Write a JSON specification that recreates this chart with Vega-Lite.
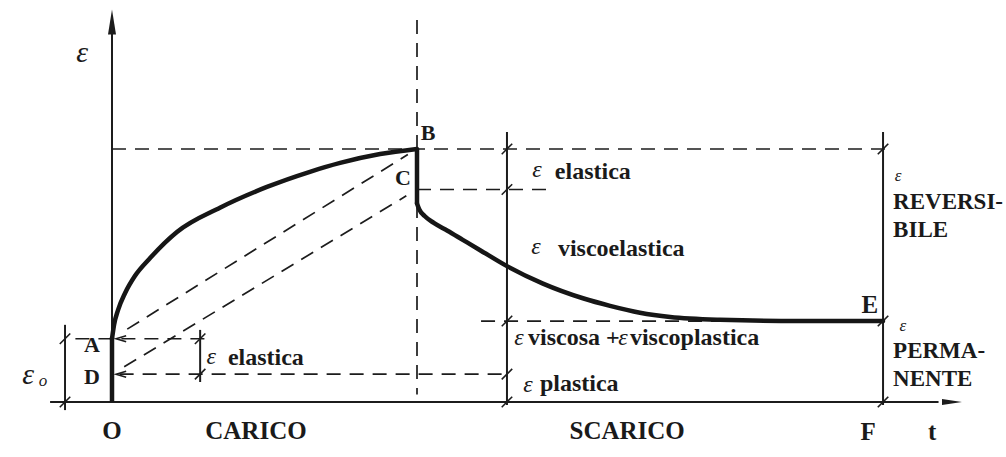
{
  "$schema": "https://vega.github.io/schema/vega-lite/v6.json",
  "width": 1006,
  "height": 457,
  "padding": 0,
  "autosize": {"type": "fit", "contains": "padding"},
  "background": "#ffffff",
  "config": {"view": {"stroke": null}},
  "datasets": {
    "solid": [
      {"t": 0, "e": 0, "t2": 0, "e2": 14.6},
      {"t": -2.03, "e": 0, "t2": 27.1, "e2": 0},
      {"t": 12.95, "e": 10.67, "t2": 12.95, "e2": -0.12},
      {"t": 25.28, "e": 10.67, "t2": 25.28, "e2": -0.12},
      {"t": -1.54, "e": 3.05, "t2": -1.54, "e2": -0.32},
      {"t": 2.89, "e": 2.85, "t2": 2.89, "e2": 0.79}
    ],
    "thick": [
      {"t": 0, "e": 0, "t2": 0, "e2": 2.55},
      {"t": 10, "e": 10.02, "t2": 10, "e2": 7.85}
    ],
    "dashed": [
      {"t": 0, "e": 10, "t2": 25.6, "e2": 10},
      {"t": 10, "e": 8.4, "t2": 14.35, "e2": 8.4},
      {"t": 12.1, "e": 3.2, "t2": 25.28, "e2": 3.2},
      {"t": 0.25, "e": 1.1, "t2": 12.95, "e2": 1.1},
      {"t": -1.2, "e": 2.5, "t2": 3.15, "e2": 2.5},
      {"t": 0.5, "e": 2.88, "t2": 9.7, "e2": 9.78},
      {"t": 0.4, "e": 1.39, "t2": 9.65, "e2": 8.15},
      {"t": 10, "e": 15.1, "t2": 10, "e2": 0.3}
    ],
    "curve": [
      {"seg": "carico", "i": 0, "t": 0, "e": 2.5},
      {"seg": "carico", "i": 1, "t": 0.066, "e": 3.04},
      {"seg": "carico", "i": 2, "t": 0.2, "e": 3.64},
      {"seg": "carico", "i": 3, "t": 0.43, "e": 4.31},
      {"seg": "carico", "i": 4, "t": 0.75, "e": 4.98},
      {"seg": "carico", "i": 5, "t": 1.25, "e": 5.69},
      {"seg": "carico", "i": 6, "t": 2.13, "e": 6.72},
      {"seg": "carico", "i": 7, "t": 3.54, "e": 7.68},
      {"seg": "carico", "i": 8, "t": 5.08, "e": 8.5},
      {"seg": "carico", "i": 9, "t": 6.49, "e": 9.1},
      {"seg": "carico", "i": 10, "t": 7.48, "e": 9.45},
      {"seg": "carico", "i": 11, "t": 8.79, "e": 9.8},
      {"seg": "carico", "i": 12, "t": 10, "e": 10},
      {"seg": "scarico", "i": 0, "t": 10, "e": 7.85},
      {"seg": "scarico", "i": 1, "t": 10.08, "e": 7.6},
      {"seg": "scarico", "i": 2, "t": 10.25, "e": 7.35},
      {"seg": "scarico", "i": 3, "t": 10.55, "e": 7.08},
      {"seg": "scarico", "i": 4, "t": 11.0, "e": 6.77},
      {"seg": "scarico", "i": 5, "t": 11.5, "e": 6.41},
      {"seg": "scarico", "i": 6, "t": 12.07, "e": 6.0},
      {"seg": "scarico", "i": 7, "t": 12.95, "e": 5.37},
      {"seg": "scarico", "i": 8, "t": 14.13, "e": 4.68},
      {"seg": "scarico", "i": 9, "t": 15.44, "e": 4.1},
      {"seg": "scarico", "i": 10, "t": 16.33, "e": 3.8},
      {"seg": "scarico", "i": 11, "t": 17.31, "e": 3.53},
      {"seg": "scarico", "i": 12, "t": 18.3, "e": 3.36},
      {"seg": "scarico", "i": 13, "t": 19.93, "e": 3.25},
      {"seg": "scarico", "i": 14, "t": 22.56, "e": 3.2},
      {"seg": "scarico", "i": 15, "t": 25.28, "e": 3.2}
    ],
    "ticks": [
      {"t": -1.54, "e": 2.5}, {"t": -1.54, "e": 0},
      {"t": 2.89, "e": 2.5}, {"t": 2.89, "e": 1.1},
      {"t": 12.95, "e": 10}, {"t": 12.95, "e": 8.4}, {"t": 12.95, "e": 3.2},
      {"t": 12.95, "e": 1.1}, {"t": 12.95, "e": 0},
      {"t": 25.28, "e": 10}, {"t": 25.28, "e": 3.2}, {"t": 25.28, "e": 0}
    ],
    "pointers": [
      {"t": 0.3, "e": 2.5}, {"t": 0.3, "e": 1.1}
    ],
    "arrow_up": [{"t": 0, "e": 15.02}],
    "arrow_right": [{"t": 27.54, "e": 0}],
    "letters": [
      {"t": -0.66, "e": 2.25, "text": "A"},
      {"t": -0.66, "e": 0.99, "text": "D"},
      {"t": 10.36, "e": 10.63, "text": "B"},
      {"t": 9.54, "e": 8.85, "text": "C"}
    ],
    "captions": [
      {"t": 0, "e": -1.15, "text": "O"},
      {"t": 4.72, "e": -1.15, "text": "CARICO"},
      {"t": 16.89, "e": -1.15, "text": "SCARICO"},
      {"t": 24.79, "e": -1.19, "text": "F"},
      {"t": 26.89, "e": -1.19, "text": "t"},
      {"t": 24.85, "e": 3.83, "text": "E"}
    ],
    "notes": [
      {"t": 14.52, "e": 9.09, "text": "elastica"},
      {"t": 14.62, "e": 6.05, "text": "viscoelastica"},
      {"t": 13.64, "e": 2.53, "text": "viscosa +"},
      {"t": 16.98, "e": 2.53, "text": "viscoplastica"},
      {"t": 14.03, "e": 0.71, "text": "plastica"},
      {"t": 3.8, "e": 1.74, "text": "elastica"}
    ],
    "side": [
      {"t": 25.61, "e": 7.9, "text": "REVERSI-"},
      {"t": 25.61, "e": 6.8, "text": "BILE"},
      {"t": 25.61, "e": 2.0, "text": "PERMA-"},
      {"t": 25.61, "e": 0.92, "text": "NENTE"}
    ],
    "eps": [
      {"t": 13.93, "e": 9.17, "text": "ε"},
      {"t": 13.9, "e": 6.13, "text": "ε"},
      {"t": 13.34, "e": 2.53, "text": "ε"},
      {"t": 16.75, "e": 2.53, "text": "ε"},
      {"t": 13.64, "e": 0.67, "text": "ε"},
      {"t": 3.25, "e": 1.78, "text": "ε"}
    ],
    "eps_big": [
      {"t": -0.98, "e": 13.79, "text": "ε"},
      {"t": -2.75, "e": 1.07, "text": "ε"}
    ],
    "eps_small": [
      {"t": 25.77, "e": 8.92, "text": "ε"},
      {"t": 25.93, "e": 3.02, "text": "ε"},
      {"t": -2.26, "e": 0.83, "text": "o"}
    ]
  },
  "encoding": {
    "x": {"field": "t", "type": "quantitative", "scale": {"domain": [-3.6721, 29.3115], "nice": false, "zero": false}, "axis": null},
    "y": {"field": "e", "type": "quantitative", "scale": {"domain": [-2.1739, 15.8893], "nice": false, "zero": false}, "axis": null}
  },
  "layer": [
    {
      "data": {"name": "dashed"},
      "mark": {"type": "rule", "color": "#1c1c1c", "strokeWidth": 1.7, "strokeDash": [14, 9]},
      "encoding": {"x2": {"field": "t2"}, "y2": {"field": "e2"}}
    },
    {
      "data": {"name": "solid"},
      "mark": {"type": "rule", "color": "#1c1c1c", "strokeWidth": 2},
      "encoding": {"x2": {"field": "t2"}, "y2": {"field": "e2"}}
    },
    {
      "data": {"name": "thick"},
      "mark": {"type": "rule", "color": "#161616", "strokeWidth": 4.5},
      "encoding": {"x2": {"field": "t2"}, "y2": {"field": "e2"}}
    },
    {
      "data": {"name": "curve"},
      "mark": {"type": "line", "color": "#161616", "strokeWidth": 4.5, "interpolate": "monotone", "strokeCap": "round"},
      "encoding": {"detail": {"field": "seg"}, "order": {"field": "i", "type": "quantitative"}}
    },
    {
      "data": {"name": "ticks"},
      "mark": {"type": "point", "shape": "M-1,1L1,-1", "size": 110, "filled": false, "stroke": "#1c1c1c", "strokeWidth": 1.6, "opacity": 1}
    },
    {
      "data": {"name": "pointers"},
      "mark": {"type": "point", "shape": "M1,-0.6L-1,0L1,0.6", "size": 100, "filled": false, "stroke": "#1c1c1c", "strokeWidth": 1.6, "opacity": 1}
    },
    {
      "data": {"name": "arrow_up"},
      "mark": {"type": "point", "shape": "M0,-1L0.32,1L-0.32,1Z", "size": 625, "filled": true, "color": "#1c1c1c", "opacity": 1}
    },
    {
      "data": {"name": "arrow_right"},
      "mark": {"type": "point", "shape": "M1,0L-1,-0.3L-1,0.3Z", "size": 400, "filled": true, "color": "#1c1c1c", "opacity": 1}
    },
    {
      "data": {"name": "letters"},
      "mark": {"type": "text", "font": "Liberation Serif", "fontWeight": "bold", "fontSize": 22, "align": "center", "baseline": "middle", "color": "#1a1a1a"},
      "encoding": {"text": {"field": "text"}}
    },
    {
      "data": {"name": "captions"},
      "mark": {"type": "text", "font": "Liberation Serif", "fontWeight": "bold", "fontSize": 25, "align": "center", "baseline": "middle", "color": "#1a1a1a"},
      "encoding": {"text": {"field": "text"}}
    },
    {
      "data": {"name": "notes"},
      "mark": {"type": "text", "font": "Liberation Serif", "fontWeight": "bold", "fontSize": 24, "align": "left", "baseline": "middle", "color": "#1a1a1a"},
      "encoding": {"text": {"field": "text"}}
    },
    {
      "data": {"name": "side"},
      "mark": {"type": "text", "font": "Liberation Serif", "fontWeight": "bold", "fontSize": 23, "align": "left", "baseline": "middle", "color": "#1a1a1a"},
      "encoding": {"text": {"field": "text"}}
    },
    {
      "data": {"name": "eps"},
      "mark": {"type": "text", "font": "Liberation Serif", "fontStyle": "italic", "fontSize": 24, "align": "center", "baseline": "middle", "color": "#1a1a1a"},
      "encoding": {"text": {"field": "text"}}
    },
    {
      "data": {"name": "eps_big"},
      "mark": {"type": "text", "font": "Liberation Serif", "fontStyle": "italic", "fontSize": 30, "align": "center", "baseline": "middle", "color": "#1a1a1a"},
      "encoding": {"text": {"field": "text"}}
    },
    {
      "data": {"name": "eps_small"},
      "mark": {"type": "text", "font": "Liberation Serif", "fontStyle": "italic", "fontSize": 17, "align": "center", "baseline": "middle", "color": "#1a1a1a"},
      "encoding": {"text": {"field": "text"}}
    }
  ]
}
